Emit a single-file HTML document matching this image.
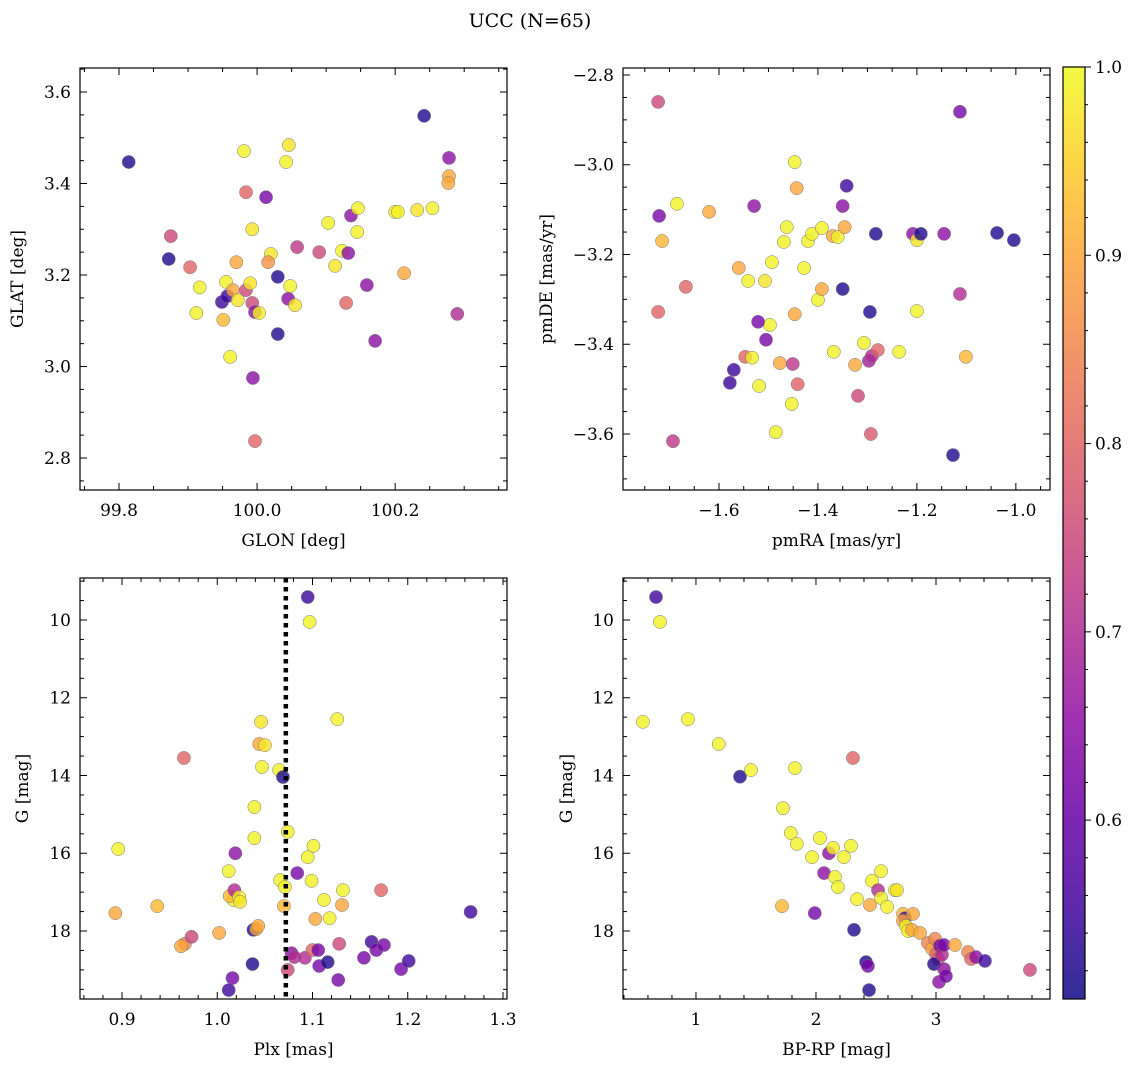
<!DOCTYPE html>
<html><head><meta charset="utf-8"><style>
html,body{margin:0;padding:0;background:#fff}
svg{display:block;font-family:"DejaVu Serif","Liberation Serif",serif}
</style></head><body>
<svg id="chart" width="1136" height="1067" viewBox="0 0 1136 1067" xmlns="http://www.w3.org/2000/svg">
<text x="530" y="27" text-anchor="middle" font-size="19">UCC (N=65)</text>
</svg>
<script>
// ---- Panel 1 data: GLON / GLAT ----
const glon=[99.814,99.875,99.872,99.903,99.917,99.912,99.951,99.949,99.957,99.955,99.970,99.965,99.972,99.961,99.981,99.984,99.984,99.990,99.993,99.993,99.997,100.003,99.994,99.997,100.013,100.020,100.016,100.030,100.030,100.042,100.046,100.048,100.045,100.055,100.058,100.090,100.103,100.113,100.123,100.136,100.132,100.129,100.146,100.145,100.159,100.171,100.200,100.204,100.213,100.232,100.254,100.242,100.278,100.278,100.277,100.290];
const glat=[3.447,3.285,3.235,3.217,3.173,3.117,3.102,3.141,3.154,3.185,3.228,3.167,3.145,3.021,3.471,3.381,3.167,3.182,3.300,3.139,3.119,3.117,2.975,2.837,3.370,3.246,3.228,3.196,3.071,3.447,3.484,3.176,3.148,3.134,3.261,3.250,3.314,3.220,3.253,3.330,3.248,3.139,3.346,3.294,3.178,3.056,3.338,3.338,3.204,3.342,3.346,3.548,3.456,3.416,3.401,3.115];
const prob1=[.52,.75,.52,.80,.99,.99,.92,.55,.55,.99,.90,.90,.975,.99,.99,.80,.75,.975,.975,.75,.65,.99,.65,.80,.62,.975,.87,.52,.52,.99,.975,.99,.65,.975,.72,.75,.99,.975,.99,.65,.65,.80,.99,.99,.65,.65,.99,.99,.90,.975,.99,.52,.65,.90,.90,.70];
// ---- Panel 2 data: pmRA / pmDE ----
const pmra=[-1.723,-1.721,-1.685,-1.715,-1.667,-1.723,-1.693,-1.620,-1.560,-1.541,-1.507,-1.493,-1.497,-1.521,-1.505,-1.547,-1.533,-1.570,-1.578,-1.519,-1.485,-1.529,-1.477,-1.469,-1.463,-1.447,-1.451,-1.453,-1.441,-1.447,-1.443,-1.428,-1.420,-1.412,-1.392,-1.400,-1.392,-1.370,-1.360,-1.368,-1.346,-1.350,-1.350,-1.342,-1.325,-1.319,-1.307,-1.297,-1.291,-1.279,-1.295,-1.293,-1.283,-1.208,-1.200,-1.192,-1.200,-1.236,-1.145,-1.113,-1.113,-1.101,-1.127,-1.038,-1.004];
const pmde=[-2.860,-3.114,-3.087,-3.170,-3.272,-3.328,-3.616,-3.105,-3.230,-3.259,-3.259,-3.217,-3.357,-3.350,-3.390,-3.428,-3.430,-3.457,-3.486,-3.493,-3.596,-3.092,-3.442,-3.172,-3.139,-3.333,-3.444,-3.533,-3.489,-2.994,-3.052,-3.230,-3.170,-3.154,-3.141,-3.301,-3.277,-3.159,-3.161,-3.417,-3.139,-3.092,-3.277,-3.047,-3.446,-3.515,-3.397,-3.437,-3.426,-3.413,-3.328,-3.600,-3.154,-3.154,-3.168,-3.154,-3.326,-3.417,-3.154,-2.882,-3.288,-3.428,-3.647,-3.152,-3.168];
const prob2=[.75,.62,.99,.92,.80,.80,.72,.90,.90,.99,.975,.99,.99,.62,.62,.80,.99,.55,.55,.99,.99,.65,.90,.99,.99,.90,.72,.99,.80,.99,.90,.99,.99,.99,.99,.99,.90,.90,.99,.99,.90,.65,.52,.55,.90,.75,.99,.68,.70,.80,.52,.78,.52,.65,.975,.52,.99,.99,.65,.62,.70,.92,.52,.52,.52];
// ---- Panel 3 data: Plx / G ----
const plx=[0.896,0.893,0.937,0.965,0.966,0.962,0.973,1.002,1.012,1.017,1.013,1.016,1.012,1.019,1.018,1.023,1.024,1.037,1.038,1.039,1.039,1.041,1.043,1.046,1.044,1.050,1.047,1.065,1.069,1.066,1.071,1.070,1.074,1.074,1.078,1.081,1.084,1.095,1.097,1.095,1.101,1.099,1.092,1.100,1.103,1.106,1.107,1.112,1.116,1.118,1.126,1.127,1.128,1.132,1.131,1.154,1.162,1.167,1.172,1.175,1.193,1.201,1.266];
const gmag3=[15.89,17.54,17.36,13.55,18.33,18.39,18.15,18.05,16.46,17.20,17.10,19.21,19.52,16.00,16.95,17.13,17.25,18.85,17.97,14.81,15.61,17.95,17.87,12.62,13.19,13.22,13.78,13.86,14.04,16.69,16.87,17.36,15.45,19.00,18.57,18.67,16.51,9.41,10.05,16.10,15.81,16.71,18.69,18.49,17.69,18.49,18.90,17.20,18.80,17.67,12.55,19.26,18.33,16.95,17.33,18.69,18.28,18.49,16.95,18.36,18.98,18.77,17.51];
const prob3=[.99,.90,.92,.80,.85,.90,.75,.90,.99,.99,.92,.62,.55,.65,.70,.99,.975,.52,.52,.99,.99,.90,.90,.975,.90,.975,.99,.99,.52,.99,.99,.92,.99,.75,.65,.70,.62,.55,.99,.99,.99,.99,.70,.80,.90,.62,.62,.99,.52,.99,.99,.62,.75,.99,.90,.62,.55,.62,.80,.62,.62,.55,.55];
const plxLine=1.072;
// ---- Panel 4 data: BP-RP / G ----
const bprp=[0.667,0.70,0.558,0.933,1.19,1.367,1.458,1.725,1.79,1.825,1.84,1.717,1.967,1.99,2.033,2.067,2.108,2.142,2.158,2.183,2.233,2.292,2.308,2.342,2.317,2.417,2.433,2.442,2.45,2.467,2.517,2.542,2.542,2.592,2.658,2.675,2.725,2.742,2.725,2.75,2.767,2.80,2.808,2.867,2.933,2.967,2.992,3.0,3.017,2.983,3.033,3.05,3.067,3.025,3.067,3.083,3.158,3.267,3.292,3.333,3.408,3.783];
const gmag4=[9.41,10.05,12.62,12.55,13.19,14.03,13.86,14.84,15.48,13.81,15.76,17.36,16.10,17.54,15.61,16.51,16.00,15.86,16.61,16.87,16.10,15.81,13.55,17.18,17.97,18.80,18.90,19.52,17.33,16.71,16.95,16.46,17.15,17.38,16.95,16.95,17.56,17.67,17.74,17.87,18.0,17.97,17.56,18.05,18.31,18.46,18.20,18.59,18.72,18.85,18.38,18.61,18.36,19.31,18.98,19.16,18.36,18.54,18.72,18.67,18.77,19.00];
const prob4=[.55,.99,.99,.99,.99,.52,.99,.99,.99,.99,.99,.92,.99,.62,.99,.65,.65,.99,.99,.99,.99,.99,.80,.99,.52,.52,.62,.52,.90,.99,.70,.99,.99,.99,.99,.975,.92,.55,.90,.99,.99,.90,.90,.90,.85,.90,.85,.80,.78,.52,.62,.70,.62,.65,.65,.62,.90,.85,.80,.65,.55,.75];
const cbTicks=[0.6,0.7,0.8,0.9,1.0];

const NS="http://www.w3.org/2000/svg";
const svg=document.getElementById('chart');
const CMIN=0.505,CMAX=1.0;
const stops=["#0d0887","#41049d","#6a00a8","#8f0da4","#b12a90","#cc4778","#e16462","#f2844b","#fca636","#fcce25","#f0f921"];
function hex(h){return [parseInt(h.slice(1,3),16),parseInt(h.slice(3,5),16),parseInt(h.slice(5,7),16)];}
function plasma(t){t=Math.max(0,Math.min(1,t));const f=t*10,i=Math.min(9,Math.floor(f)),u=f-i;const a=hex(stops[i]),b=hex(stops[i+1]);return `rgb(${a.map((v,k)=>Math.round(v+(b[k]-v)*u)).join(',')})`;}
function cmap(c){return plasma((c-CMIN)/(CMAX-CMIN));}
function el(tag,attrs,parent){const e=document.createElementNS(NS,tag);for(const k in attrs)e.setAttribute(k,attrs[k]);(parent||svg).appendChild(e);return e;}
function fmt(v,d){const s=v.toFixed(d);return v<0?'\u2212'+s.slice(1):s;}

function panel(o){
  const g=el('g',{});
  
  
  const {x0,x1,y0,y1}=o.box;
  const sx=v=>x0+(v-o.xr[0])/(o.xr[1]-o.xr[0])*(x1-x0);
  const sy=v=>o.yinv? y0+(v-o.yr[0])/(o.yr[1]-o.yr[0])*(y1-y0) : y1-(v-o.yr[0])/(o.yr[1]-o.yr[0])*(y1-y0);
  const pts=el('g',{},g);
  
  
  for(let i=0;i<o.xs.length;i++){
    const c=el('circle',{cx:sx(o.xs[i]),cy:sy(o.ys[i]),r:6.6,fill:cmap(o.cs[i]),'fill-opacity':0.8,stroke:'#777','stroke-width':0.5},pts);
    
    
  }
  if(o.vline!==undefined){
    const l=el('line',{x1:sx(o.vline),x2:sx(o.vline),y1:y0,y2:y1,stroke:'#000','stroke-width':4.5,'stroke-dasharray':'4.5,4.5'},g);
    
    
  }
  const fr=el('rect',{x:x0,y:y0,width:x1-x0,height:y1-y0,fill:'none',stroke:'#000','stroke-width':1.2},g);
  
  
  const tg=el('g',{stroke:'#000','stroke-width':1},g);
  const xa=Math.ceil((o.xr[0]-1e-9)/o.xminor), xb=Math.floor((o.xr[1]+1e-9)/o.xminor);
  for(let k=xa;k<=xb;k++){const v=k*o.xminor;const isMaj=Math.abs(v/o.xmajor-Math.round(v/o.xmajor))<1e-6;const L=isMaj?7:4;const X=sx(v);
    el('line',{x1:X,x2:X,y1:y1,y2:y1-L},tg);el('line',{x1:X,x2:X,y1:y0,y2:y0+L},tg);
    if(isMaj){const t=el('text',{x:X,y:y1+26,'text-anchor':'middle','font-size':17,stroke:'none'},g);t.textContent=fmt(v,o.xd);}}
  const ya=Math.ceil((o.yr[0]-1e-9)/o.yminor), yb=Math.floor((o.yr[1]+1e-9)/o.yminor);
  for(let k=ya;k<=yb;k++){const v=k*o.yminor;const isMaj=Math.abs(v/o.ymajor-Math.round(v/o.ymajor))<1e-6;const L=isMaj?7:4;const Y=sy(v);
    el('line',{x1:x0,x2:x0+L,y1:Y,y2:Y},tg);el('line',{x1:x1,x2:x1-L,y1:Y,y2:Y},tg);
    if(isMaj){const t=el('text',{x:x0-9,y:Y+6,'text-anchor':'end','font-size':17,stroke:'none'},g);t.textContent=fmt(v,o.yd);}}
  const xl=el('text',{x:(x0+x1)/2,y:y1+56,'text-anchor':'middle','font-size':17},g);xl.textContent=o.xlabel;
  
  
  const yx=o.ylx, yyc=(y0+y1)/2;
  const yl=el('text',{x:yx,y:yyc,'text-anchor':'middle','font-size':17,transform:`rotate(-90 ${yx} ${yyc})`},g);yl.textContent=o.ylabel;
  
  
}

panel({name:'panel-glon-glat',box:{x0:80,x1:507,y0:68,y1:490},xr:[99.7435,100.362],yr:[2.7301,3.6525],xs:glon,ys:glat,cs:prob1,xmajor:0.2,xminor:0.05,ymajor:0.2,yminor:0.05,xd:1,yd:1,xlabel:'GLON [deg]',ylabel:'GLAT [deg]',ylx:23});
panel({name:'panel-pmra-pmde',box:{x0:623,x1:1050,y0:68,y1:490},xr:[-1.794,-0.931],yr:[-3.7248,-2.7844],xs:pmra,ys:pmde,cs:prob2,xmajor:0.2,xminor:0.05,ymajor:0.2,yminor:0.05,xd:1,yd:1,xlabel:'pmRA [mas/yr]',ylabel:'pmDE [mas/yr]',ylx:552});
panel({name:'panel-plx-g',box:{x0:80,x1:507,y0:578,y1:999},xr:[0.8559,1.3042],yr:[8.92,19.749],yinv:true,xs:plx,ys:gmag3,cs:prob3,xmajor:0.1,xminor:0.02,ymajor:2,yminor:0.5,xd:1,yd:0,xlabel:'Plx [mas]',ylabel:'G [mag]',ylx:28,vline:plxLine});
panel({name:'panel-cmd',box:{x0:623,x1:1050,y0:578,y1:999},xr:[0.392,3.95],yr:[8.92,19.749],yinv:true,xs:bprp,ys:gmag4,cs:prob4,xmajor:1,xminor:0.2,ymajor:2,yminor:0.5,xd:0,yd:0,xlabel:'BP-RP [mag]',ylabel:'G [mag]',ylx:572});

(function(){
  const g=el('g',{});
  
  
  const x0=1063,x1=1085,y0=67,y1=999;
  const defs=el('defs',{},g);
  const lg=el('linearGradient',{id:'cbg',x1:0,y1:1,x2:0,y2:0},defs);
  for(let i=0;i<=20;i++){el('stop',{offset:i/20,'stop-color':plasma(i/20),'stop-opacity':0.85},lg);}
  el('rect',{x:x0,y:y0,width:x1-x0,height:y1-y0,fill:'url(#cbg)',stroke:'#000','stroke-width':1.2},g);
  const sy=v=>y1-(v-CMIN)/(CMAX-CMIN)*(y1-y0);
  for(let v=0.52;v<=1.0001;v+=0.02){const Y=sy(v);const maj=cbTicks.some(t=>Math.abs(t-v)<1e-6);el('line',{x1:x1,x2:x1+(maj?6:3),y1:Y,y2:Y,stroke:'#000','stroke-width':1},g);}
  cbTicks.forEach(v=>{const t=el('text',{x:x1+10,y:sy(v)+6,'font-size':17},g);t.textContent=v.toFixed(1);
    
    });
})();
</script>
</body></html>
